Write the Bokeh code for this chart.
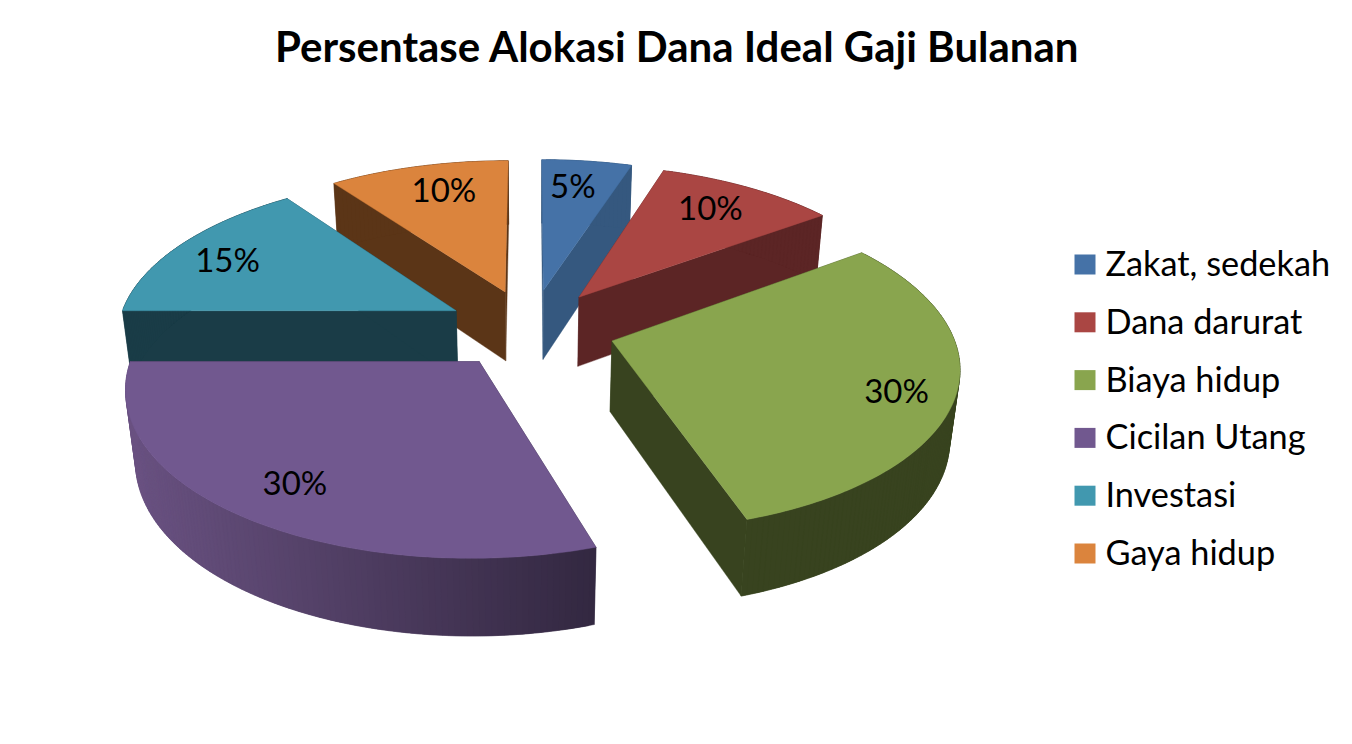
import numpy as np
from bokeh.plotting import figure
from bokeh.embed import file_html
from bokeh.resources import INLINE
from bokeh.core.properties import value

title_text = "Persentase Alokasi Dana Ideal Gaji Bulanan"
categories = ["Zakat, sedekah", "Dana darurat", "Biaya hidup", "Cicilan Utang", "Investasi", "Gaya hidup"]
shares = [5, 10, 30, 30, 15, 10]
labels = ["5%", "10%", "30%", "30%", "15%", "10%"]
top_colors = ["#4572A7", "#AA4643", "#89A54E", "#71588F", "#4198AF", "#DB843D"]
wall_colors = ["#35587F", "#5C2525", "#38431F", "#6A5282", "#1A3C47", "#5B3517"]
wall_dark = ["#35587F", "#5C2525", "#38431F", "#332841", "#1A3C47", "#5B3517"]
label_frac = [0.72, 0.70, 0.88, 0.82, 0.84, 0.74]
label_dx = [-3, 9, -17, 7, 5, 5]
label_dy = [-9, -11, 3, -3, 4, -7]
draw_order = [0, 1, 5, 4, 2, 3]

# view geometry
CX, CY, A, B, K, D, M, EXPL = 530.0, 328.0, 339.0, 159.0, 0.14, 72.0, 0.024, 0.25


def project(x, y, z=0.0):
    w = 1 + K * y + M * z
    return CX + A * x / w, CY - (B * y - D * z) / w


def mix(c1, c2, t):
    a = [int(c1[i:i + 2], 16) for i in (1, 3, 5)]
    b = [int(c2[i:i + 2], 16) for i in (1, 3, 5)]
    return "#%02x%02x%02x" % tuple(int(round(u + (v - u) * t)) for u, v in zip(a, b))


p = figure(width=1336, height=720, x_range=(0, 1336), y_range=(720, 0),
           output_backend="svg", toolbar_location=None, min_border=0)
p.axis.visible = False
p.grid.visible = False
p.outline_line_color = None

xs, ys, fills = [], [], []


def add(points, color):
    xs.append([q[0] for q in points])
    ys.append([q[1] for q in points])
    fills.append(color)


total = sum(shares)
edges = np.cumsum([0] + shares) / total * 2 * np.pi
label_x, label_y = [], []
for i in draw_order:
    a0, a1 = edges[i], edges[i + 1]
    mid = (a0 + a1) / 2
    ax, ay = EXPL * np.sin(mid), EXPL * np.cos(mid)
    th = np.linspace(a0, a1, int(shares[i]) * 4 + 2)
    rim = [(ax + np.sin(t), ay + np.cos(t)) for t in th]
    # flat cut faces
    for q in (rim[0], rim[-1]):
        add([project(ax, ay), project(*q), project(*q, 1), project(ax, ay, 1)], wall_dark[i])
    # outer wall, as overlapping strips so that no seam shows
    rx = [project(*q)[0] for q in rim]
    lo, hi = min(rx), max(rx)
    for j in range(len(rim) - 1):
        seg = rim[j:j + 3]
        t = (rx[j] - lo) / (hi - lo)
        add([project(*q) for q in seg] + [project(*q, 1) for q in reversed(seg)],
            mix(wall_colors[i], wall_dark[i], t))
    # top face
    add([project(ax, ay)] + [project(*q) for q in rim], top_colors[i])
    f = label_frac[i]
    lx, ly = project(ax + f * np.sin(mid), ay + f * np.cos(mid))
    label_x.append(lx + label_dx[i])
    label_y.append(ly + label_dy[i])

p.patches(xs, ys, fill_color=fills, line_color=fills, line_width=0.4)

p.text(label_x, label_y, text=[labels[i] for i in draw_order], text_font=value("Lato"),
       text_font_size="33px", text_align="center", text_baseline="middle", text_color="#000000")

p.text([677], [45], text=[title_text], text_font=value("Lato"), text_font_style="bold",
       text_font_size="42px", text_align="center", text_baseline="middle", text_color="#000000")

leg_y = [264 + 57.8 * i for i in range(len(categories))]
p.rect([1084.5] * len(categories), leg_y, width=21, height=20, fill_color=top_colors, line_color=None)
p.text([1105] * len(categories), [y - 2 for y in leg_y], text=categories, text_font=value("Lato"),
       text_font_size="34.3px", text_align="left", text_baseline="middle", text_color="#000000")

open("out.html", "w").write(file_html(p, INLINE))
